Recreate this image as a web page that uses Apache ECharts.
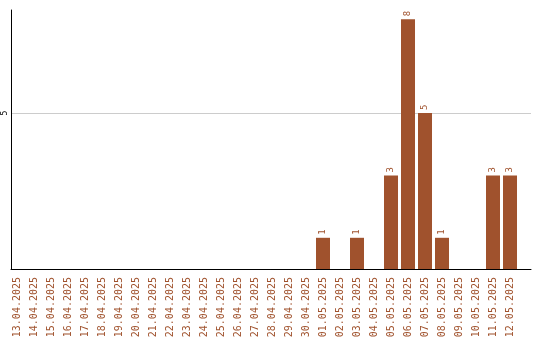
<!DOCTYPE html>
<html><head><meta charset="utf-8">
<script src="https://cdn.jsdelivr.net/npm/echarts@6/dist/echarts.min.js"></script>
<style>html,body{margin:0;padding:0;background:#fff}#c{width:540px;height:340px}</style>
</head><body><div id="c"></div>
<script>
const categories = ["13.04.2025","14.04.2025","15.04.2025","16.04.2025","17.04.2025","18.04.2025","19.04.2025","20.04.2025","21.04.2025","22.04.2025","23.04.2025","24.04.2025","25.04.2025","26.04.2025","27.04.2025","28.04.2025","29.04.2025","30.04.2025","01.05.2025","02.05.2025","03.05.2025","04.05.2025","05.05.2025","06.05.2025","07.05.2025","08.05.2025","09.05.2025","10.05.2025","11.05.2025","12.05.2025"];
const values = [0,0,0,0,0,0,0,0,0,0,0,0,0,0,0,0,0,0,1,0,1,0,3,8,5,1,0,0,3,3];
const yTicks = [5];

const color = '#a0522d';
const font = 'DejaVu Sans Mono';
const chart = echarts.init(document.getElementById('c'));
chart.setOption({
  animation: false,
  grid: {left: 11, right: 9, top: 10, bottom: 71, containLabel: false, outerBoundsMode: 'none'},
  xAxis: {
    type: 'value', min: -0.353, max: 30.235,
    axisLine: {show: true, onZero: false, lineStyle: {color: '#000', width: 1}},
    axisTick: {show: false},
    splitLine: {show: false},
    axisLabel: {
      customValues: categories.map((_, i) => i),
      formatter: v => categories[Math.round(v)] || '',
      rotate: 90, color: color, fontFamily: font, fontSize: 10, margin: 8
    }
  },
  yAxis: {
    type: 'value', min: 0, max: 8.3,
    axisLine: {show: true, onZero: false, lineStyle: {color: '#000', width: 1}},
    axisTick: {show: false, customValues: yTicks},
    splitLine: {show: true, lineStyle: {color: '#ccc', width: 1}},
    axisLabel: {customValues: yTicks, rotate: 90, color: '#000', fontFamily: font, fontSize: 8, margin: 2}
  },
  series: [{
    type: 'bar',
    data: values.map((v, i) => [i, v]),
    barWidth: 14,
    itemStyle: {color: color},
    label: {
      show: true, position: 'top', rotate: 90, align: 'left', verticalAlign: 'middle',
      distance: 3, color: color, fontFamily: font, fontSize: 9,
      formatter: p => p.value[1] ? String(p.value[1]) : ''
    }
  }]
});
</script></body></html>
